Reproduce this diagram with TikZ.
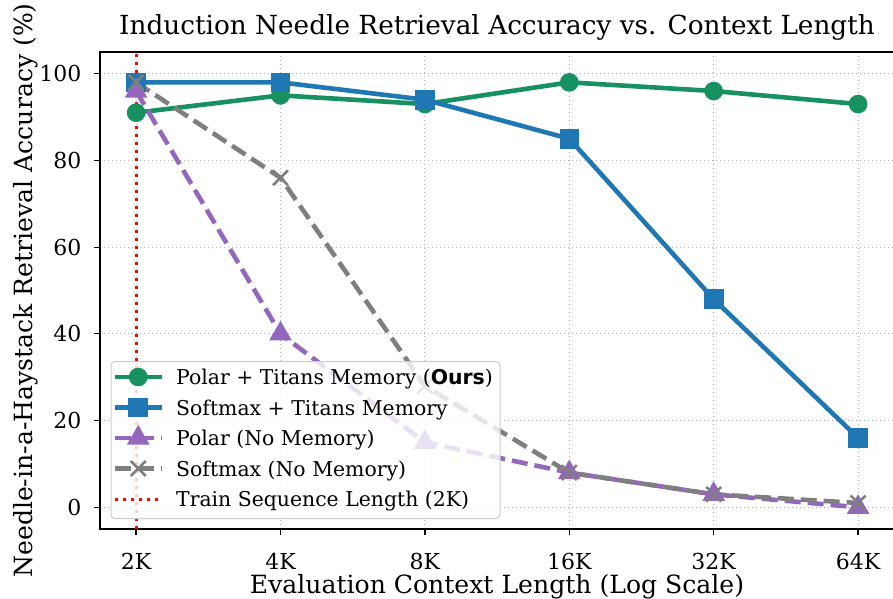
\documentclass[tikz,border=0pt]{standalone}
\usepackage{fontspec}
\setmainfont{DejaVu Serif}
\newfontfamily\sansbold{DejaVu Sans}
\usepackage{pgfplots}
\pgfplotsset{compat=1.18}
\usetikzlibrary{plotmarks,calc}

\definecolor{polargreen}{RGB}{22,145,95}
\definecolor{titansblue}{HTML}{1F77B4}
\definecolor{nomempurple}{HTML}{9467BD}
\definecolor{nomemgray}{HTML}{7F7F7F}

\newcommand{\titlesize}{\fontsize{26.3}{30}\selectfont}
\newcommand{\labelsize}{\fontsize{25.1}{29}\selectfont}
\newcommand{\ticksize}{\fontsize{22}{26}\selectfont}
\newcommand{\legendsize}{\fontsize{20.4}{25}\selectfont}

\tikzset{
    polarmem/.style = {color=polargreen, line width=4.6pt, mark=*, mark size=7pt, mark options={solid}},
    softmem/.style = {color=titansblue, line width=4.6pt, mark=square*, mark size=7.5pt, mark options={solid}},
    polarnomem/.style = {color=nomempurple, line width=4.6pt, dash pattern=on 16pt off 7pt,
        mark=triangle*, mark size=8.5pt, mark options={solid}},
    softnomem/.style = {color=nomemgray, line width=4.6pt, dash pattern=on 16pt off 7pt,
        mark=x, mark size=10.5pt, mark options={solid, line width=2.5pt}},
    trainlen/.style = {color=red, line width=3pt, dash pattern=on 3pt off 5pt},
    legendbox/.style = {draw=black!20, line width=1pt, fill=white, fill opacity=0.8,
        rounded corners=4pt, inner sep=0pt},
    legendtext/.style = {anchor=base west, font=\legendsize, inner sep=0pt}
}

\begin{document}
\begin{tikzpicture}[x=1pt, y=1pt]
    \begin{axis}[
        at={(100pt,69pt)}, anchor=south west,
        scale only axis, width=794.2pt, height=477pt,
        xmin=-0.25, xmax=5.25, ymin=-5, ymax=105,
        axis line style={line width=1.25pt, black},
        xtick={0,...,5}, xticklabels={2K,4K,8K,16K,32K,64K},
        ytick={0,20,...,100}, yticklabels={0,20,40,60,80,100},
        tick align=outside, tick pos=left,
        major tick length=6pt,
        tick style={black, line width=1.25pt},
        grid=major,
        grid style={color=black!30, line width=1pt, dash pattern=on 1pt off 3pt},
        xticklabel style={font=\ticksize, anchor=base, inner sep=0pt, yshift=-34.5pt},
        yticklabel style={font=\ticksize, anchor=east, inner sep=0pt, xshift=-12.5pt},
    ]
        \addplot[polarmem] coordinates {(0,91) (1,95) (2,93) (3,98) (4,96) (5,93)};
        \addplot[softmem] coordinates {(0,98) (1,98) (2,94) (3,85) (4,48) (5,16)};
        \addplot[polarnomem] coordinates {(0,96) (1,40) (2,15) (3,8) (4,3) (5,0)};
        \addplot[softnomem] coordinates {(0,98) (1,76) (2,28) (3,8) (4,3) (5,1)};
        \addplot[trainlen] coordinates {(0,-5) (0,105)};
    \end{axis}

    % titles
    \node[font=\titlesize, anchor=base, inner sep=0pt] (title) at (497,563)
        {Induction Needle Retrieval Accuracy vs. Context Length};
    \node[font=\labelsize, anchor=base, inner sep=0pt] (xlabel) at (497,5)
        {Evaluation Context Length (Log Scale)};
    \node[font=\labelsize, anchor=base, inner sep=0pt, rotate=90] (ylabel) at (32,307.5)
        {Needle-in-a-Haystack Retrieval Accuracy (\%)};

    % legend
    \node[legendbox, anchor=north west, minimum width=389pt, minimum height=157pt] (legend) at (110.5,237) {};
    \foreach \s/\t [count=\i] in {
        polarmem/{Polar + Titans Memory ({\sansbold\bfseries Ours})},
        softmem/{Softmax + Titans Memory},
        polarnomem/{Polar (No Memory)},
        softnomem/{Softmax (No Memory)},
        trainlen/{Train Sequence Length (2K)}}{
        \coordinate (hs\i) at (115,{251.5-30.5*\i});
        \coordinate (he\i) at (161.5,{251.5-30.5*\i});
        \draw[\s, mark=none] (hs\i) -- (he\i);
        \ifnum\i<5
            \draw[\s] plot coordinates {($(hs\i)!.5!(he\i)$)};
        \fi
        \node[legendtext] (leg\i) at (176,{244-30.5*\i}) {\t};
    }

    \pgfresetboundingbox
    \useasboundingbox (0,0) rectangle (893,598);
\end{tikzpicture}
\end{document}
